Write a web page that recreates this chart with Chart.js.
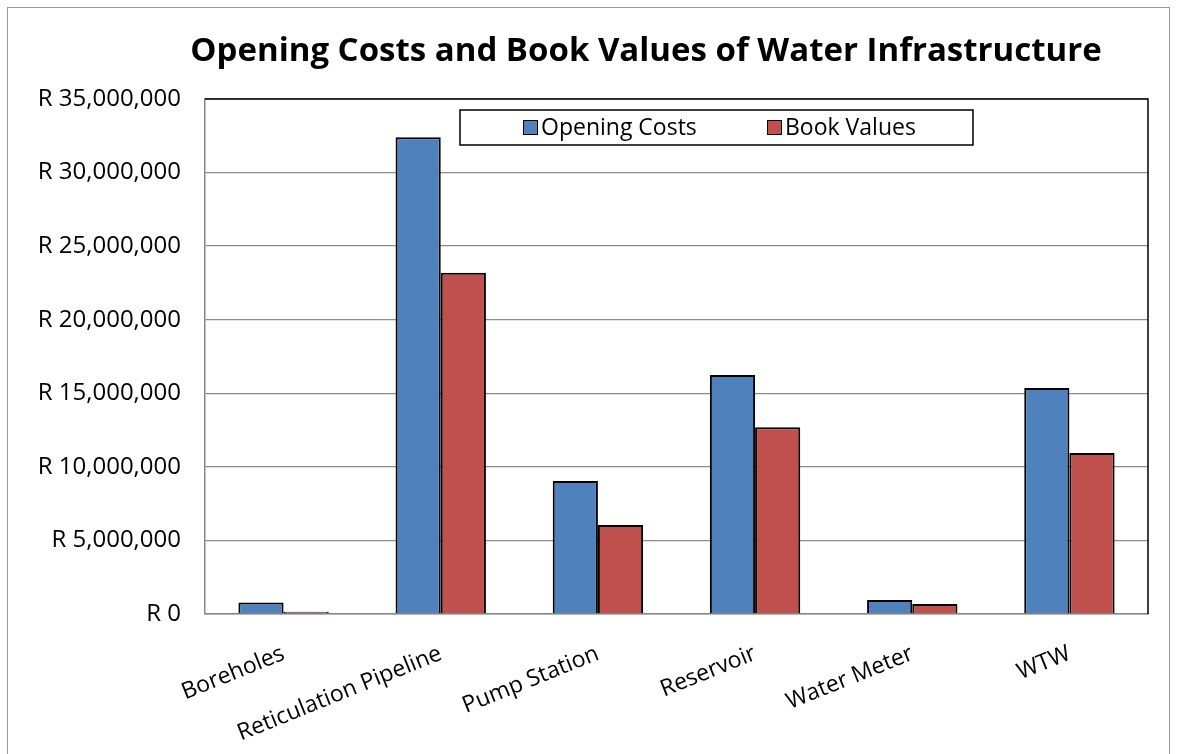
<!DOCTYPE html>
<html>
<head>
<meta charset="utf-8">
<script src="https://cdn.jsdelivr.net/npm/chart.js@4"></script>
<style>
  html, body { margin: 0; padding: 0; background: #fff; }
  #wrap { position: relative; width: 1178px; height: 754px; }
</style>
</head>
<body>
<div id="wrap"><canvas id="chart" width="1178" height="754"></canvas></div>
<script>
const categories = ['Boreholes', 'Reticulation Pipeline', 'Pump Station', 'Reservoir', 'Water Meter', 'WTW'];
const openingCosts = [780000, 32400000, 9040000, 16250000, 950000, 15360000];
const bookValues = [150000, 23200000, 6050000, 12700000, 680000, 10950000];
const yTicks = [0, 5000000, 10000000, 15000000, 20000000, 25000000, 30000000, 35000000];

const titleText = 'Opening Costs and Book Values of Water Infrastructure';
const fontFamily = '"Open Sans", "Noto Sans", sans-serif';

// frame, title, legend box and plot border, drawn like the spreadsheet chart
const decorations = {
  id: 'decorations',
  beforeDraw(chart) {
    const ctx = chart.ctx;
    ctx.save();
    ctx.fillStyle = '#fff';
    ctx.fillRect(0, 0, chart.width, chart.height);
    ctx.strokeStyle = '#9a9a9a';
    ctx.lineWidth = 1;
    ctx.strokeRect(7.5, 7.5, 1162, 780);
    ctx.restore();
  },
  afterDraw(chart) {
    const ctx = chart.ctx;
    const a = chart.chartArea;
    ctx.save();
    // plot border top and right
    ctx.strokeStyle = '#000';
    ctx.lineWidth = 1.5;
    ctx.beginPath();
    ctx.moveTo(a.left, a.top);
    ctx.lineTo(a.right, a.top);
    ctx.lineTo(a.right, a.bottom);
    ctx.stroke();

    // title
    ctx.fillStyle = '#000';
    ctx.font = 'bold 33px ' + fontFamily;
    ctx.textAlign = 'center';
    ctx.textBaseline = 'middle';
    ctx.fillText(titleText, 646, 52);

    // legend
    const lx = 460, ly = 110, lw = 513, lh = 35;
    ctx.fillStyle = '#fff';
    ctx.fillRect(lx, ly, lw, lh);
    ctx.strokeStyle = '#000';
    ctx.lineWidth = 1.5;
    ctx.strokeRect(lx, ly, lw, lh);
    ctx.font = '23px ' + fontFamily;
    ctx.textAlign = 'left';
    const starts = [523, 767];
    chart.data.datasets.forEach((ds, i) => {
      const x = starts[i];
      ctx.fillStyle = ds.backgroundColor;
      ctx.fillRect(x, ly + 10, 14, 14);
      ctx.strokeStyle = '#000';
      ctx.lineWidth = 1;
      ctx.strokeRect(x + 0.5, ly + 10.5, 14, 14);
      ctx.fillStyle = '#000';
      ctx.fillText(ds.label, x + 18, ly + lh / 2 + 1);
    });
    ctx.restore();
  }
};

new Chart(document.getElementById('chart'), {
  type: 'bar',
  data: {
    labels: categories,
    datasets: [
      {
        label: 'Opening Costs',
        data: openingCosts,
        backgroundColor: '#4F81BD',
        borderColor: '#000',
        borderWidth: 2,
        categoryPercentage: 0.575,
        barPercentage: 1
      },
      {
        label: 'Book Values',
        data: bookValues,
        backgroundColor: '#C0504D',
        borderColor: '#000',
        borderWidth: 2,
        categoryPercentage: 0.575,
        barPercentage: 1
      }
    ]
  },
  options: {
    responsive: false,
    animation: false,
    layout: { padding: { top: 99, right: 30, bottom: 0, left: 0 } },
    plugins: {
      legend: { display: false },
      title: { display: false },
      tooltip: { enabled: false }
    },
    scales: {
      x: {
        grid: { display: false, drawTicks: false },
        border: { color: '#868686', width: 1.5 },
        ticks: {
          color: '#000',
          font: { family: fontFamily, size: 23 },
          minRotation: 22,
          maxRotation: 22,
          autoSkip: false,
          padding: 26
        },
        afterFit(scale) { scale.height = 140; }
      },
      y: {
        min: 0,
        max: 35000000,
        afterBuildTicks(scale) { scale.ticks = yTicks.map(v => ({ value: v })); },
        grid: { color: '#8c8c8c', lineWidth: 1.3, drawTicks: false },
        border: { color: '#868686', width: 1.5 },
        ticks: {
          color: '#000',
          font: { family: fontFamily, size: 24 },
          padding: 24,
          callback: v => 'R ' + v.toLocaleString('en-US')
        },
        afterFit(scale) { scale.width = 205; }
      }
    }
  },
  plugins: [decorations]
});
</script>
</body>
</html>
